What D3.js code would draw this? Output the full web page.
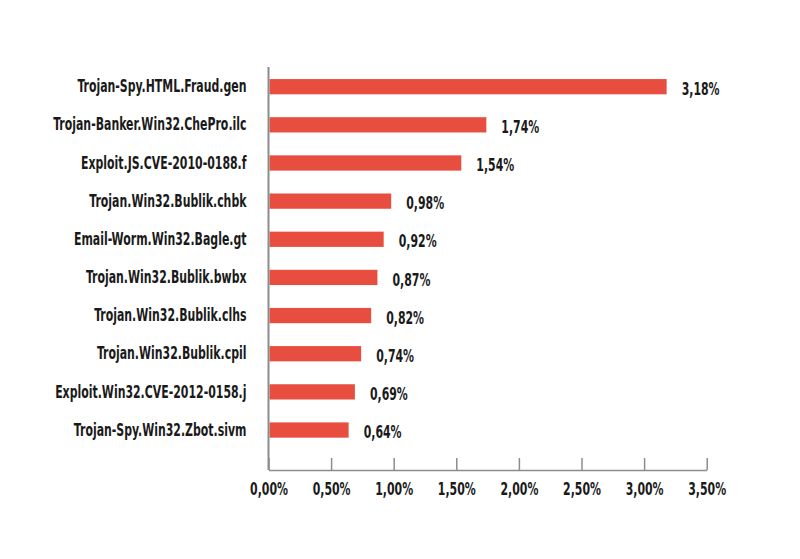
<!DOCTYPE html>
<html>
<head>
<meta charset="utf-8">
<script src="https://cdn.jsdelivr.net/npm/d3@7"></script>
<style>
  body { margin: 0; background: #fff; }
  text { font-family: "DejaVu Sans Condensed", "DejaVu Sans", sans-serif; font-weight: bold; fill: #1a1a1a; }
</style>
</head>
<body>
<script>
const names = [
  "Trojan-Spy.HTML.Fraud.gen",
  "Trojan-Banker.Win32.ChePro.ilc",
  "Exploit.JS.CVE-2010-0188.f",
  "Trojan.Win32.Bublik.chbk",
  "Email-Worm.Win32.Bagle.gt",
  "Trojan.Win32.Bublik.bwbx",
  "Trojan.Win32.Bublik.clhs",
  "Trojan.Win32.Bublik.cpil",
  "Exploit.Win32.CVE-2012-0158.j",
  "Trojan-Spy.Win32.Zbot.sivm"
];
const shares = [3.18, 1.74, 1.54, 0.98, 0.92, 0.87, 0.82, 0.74, 0.69, 0.64];
const ticks = [0, 0.5, 1, 1.5, 2, 2.5, 3, 3.5];

const svg = d3.select("body").append("svg")
  .attr("width", 800)
  .attr("height", 559);

const x0 = 268.5, x1 = 706.7, yTop = 67, yAxis = 470;
const fs = 17, squeeze = 0.715; // condensed look: no narrow font installed

const x = d3.scaleLinear()
  .domain([0, 3.5])
  .range([x0, x1]);

const y = d3.scaleBand()
  .domain(names)
  .range([67.6, 449.1])
  .paddingInner(0.6)
  .paddingOuter(0.3);

const pct = d3.formatLocale({decimal: ",", thousands: ".", grouping: [3], currency: ["", "%"]}).format(".2f");

const place = (px, py) => `translate(${px}, ${py}) scale(${squeeze}, 1)`;

// bars
svg.selectAll(".bar").data(names)
  .enter().append("rect")
  .attr("class", "bar")
  .attr("x", x(0) + 1)
  .attr("y", (d) => y(d))
  .attr("width", (d, i) => x(shares[i]) - x(0) - 1)
  .attr("height", y.bandwidth())
  .attr("fill", "#e84e3f");

// value labels
svg.selectAll(".value").data(names)
  .enter().append("text")
  .attr("class", "value")
  .attr("transform", (d, i) => place(x(shares[i]) + 15, y(d) + y.bandwidth() / 2 + 2))
  .attr("dy", "0.36em")
  .attr("font-size", fs)
  .text((d, i) => pct(shares[i]) + "%");

// category labels
svg.selectAll(".name").data(names)
  .enter().append("text")
  .attr("class", "name")
  .attr("transform", (d) => place(246.5, y(d) + y.bandwidth() / 2 - 0.5))
  .attr("dy", "0.36em")
  .attr("font-size", fs)
  .style("text-anchor", "end")
  .text((d) => d);

// axes
const axis = svg.append("g")
  .attr("transform", `translate(0, ${yAxis})`)
  .call(d3.axisBottom(x)
    .tickValues(ticks)
    .tickSizeInner(-12)
    .tickSizeOuter(0)
    .tickPadding(0)
    .tickFormat((d) => pct(d) + "%"));

axis.select(".domain").attr("stroke", "#8c8c8c").attr("stroke-width", 1.5);
axis.selectAll(".tick line").attr("stroke", "#8c8c8c").attr("stroke-width", 1.5);
axis.selectAll(".tick text")
  .attr("y", null)
  .attr("dy", 0)
  .attr("transform", place(0, 25))
  .attr("font-size", fs)
  .attr("font-family", null)
  .style("fill", "#1a1a1a");

svg.append("line")
  .attr("x1", x0).attr("x2", x0)
  .attr("y1", yTop).attr("y2", yAxis)
  .attr("stroke", "#8c8c8c")
  .attr("stroke-width", 2);
</script>
</body>
</html>
